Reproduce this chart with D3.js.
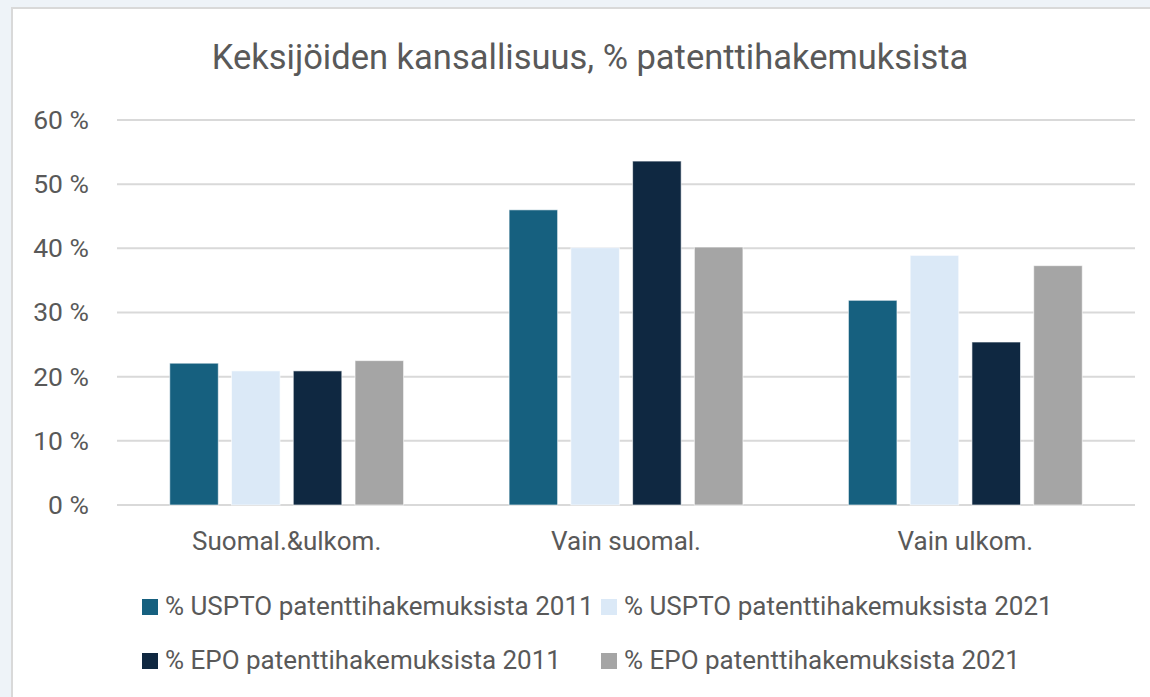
<!DOCTYPE html>
<html>
<head>
<meta charset="utf-8">
<script src="https://cdn.jsdelivr.net/npm/d3@7"></script>
<style>
  body { margin: 0; background: #eef3f8; }
  text { font-family: Roboto, "Noto Sans", sans-serif; fill: #595959; }
</style>
</head>
<body>
<div id="chart"></div>
<script>
// Chart data
var categories = ["Suomal.&ulkom.", "Vain suomal.", "Vain ulkom."];
var seriesNames = [
  "% USPTO patenttihakemuksista 2011",
  "% USPTO patenttihakemuksista 2021",
  "% EPO patenttihakemuksista 2011",
  "% EPO patenttihakemuksista 2021"
];
var usptoValues2011 = [22.1, 46.0, 31.9];
var usptoValues2021 = [20.9, 40.1, 38.9];
var epoValues2011 = [20.9, 53.6, 25.4];
var epoValues2021 = [22.5, 40.2, 37.3];
var yTicks = [0, 10, 20, 30, 40, 50, 60];

var seriesValues = [usptoValues2011, usptoValues2021, epoValues2011, epoValues2021];
var colors = ["#16607f", "#dbe9f7", "#0f2841", "#a5a5a5"];

var svgWidth = 1150;
var svgHeight = 697;

var svg = d3.select("#chart")
  .append("svg")
  .attr("width", svgWidth)
  .attr("height", svgHeight)
  .style("display", "block");

// Chart area (white card with light border)
svg.append("rect")
  .attr("x", 12)
  .attr("y", 8)
  .attr("width", svgWidth)
  .attr("height", svgHeight)
  .attr("fill", "#ffffff")
  .attr("stroke", "#d9d9d9")
  .attr("stroke-width", 2);

// Title
svg.append("text")
  .attr("x", 590)
  .attr("y", 69)
  .attr("text-anchor", "middle")
  .style("font-size", "34.5px")
  .text("Keksijöiden kansallisuus, % patenttihakemuksista");

// Scales
var xScale = d3.scaleBand()
  .domain(categories)
  .range([117, 1135]);

var xInner = d3.scaleBand()
  .domain(d3.range(seriesNames.length))
  .range([0, xScale.bandwidth()])
  .paddingInner(0.214)
  .paddingOuter(0.854);

var yScale = d3.scaleLinear()
  .domain([0, 60])
  .range([505, 120]);

// Gridlines
svg.append("g")
  .selectAll("line")
  .data(yTicks)
  .enter()
  .append("line")
  .attr("x1", 117)
  .attr("x2", 1135)
  .attr("y1", d => yScale(d))
  .attr("y2", d => yScale(d))
  .attr("stroke", "#d9d9d9")
  .attr("stroke-width", 2);

// Y axis labels
var yAxis = svg.append("g")
  .attr("transform", "translate(100, 0)")
  .call(d3.axisLeft(yScale).tickValues(yTicks).tickSize(0).tickFormat(d => d + " %"));
yAxis.select(".domain").remove();
yAxis.selectAll("text")
  .attr("x", -11)
  .style("font-size", "26.5px")
  .style("font-family", "Roboto, sans-serif")
  .attr("fill", "#595959");

// Bars
var groups = svg.append("g")
  .selectAll("g")
  .data(categories)
  .enter()
  .append("g")
  .attr("transform", d => `translate(${xScale(d)}, 0)`);

groups.selectAll("rect")
  .data((d, i) => seriesValues.map((vals, s) => ({ series: s, value: vals[i] })))
  .enter()
  .append("rect")
  .attr("x", d => xInner(d.series))
  .attr("y", d => yScale(d.value))
  .attr("width", xInner.bandwidth())
  .attr("height", d => yScale(0) - yScale(d.value))
  .attr("fill", d => colors[d.series])
  .attr("stroke", "#ffffff")
  .attr("stroke-opacity", 0.6)
  .attr("stroke-width", 1);

// Category labels
var xAxis = svg.append("g")
  .attr("transform", "translate(0, 505)")
  .call(d3.axisBottom(xScale).tickSize(0));
xAxis.select(".domain").remove();
xAxis.selectAll("text")
  .attr("y", 45)
  .attr("dy", 0)
  .style("font-size", "26px")
  .style("font-family", "Roboto, sans-serif")
  .attr("fill", "#595959");

// Legend (two rows, two columns)
var legendPos = [[142, 599], [601, 599], [142, 653], [601, 653]];

var legend = svg.append("g")
  .selectAll("g")
  .data(seriesNames)
  .enter()
  .append("g")
  .attr("transform", (d, i) => `translate(${legendPos[i][0]}, ${legendPos[i][1]})`);

legend.append("rect")
  .attr("width", 16)
  .attr("height", 16)
  .attr("fill", (d, i) => colors[i]);

legend.append("text")
  .attr("x", 23)
  .attr("y", 16)
  .style("font-size", "26px")
  .text(d => d);
</script>
</body>
</html>
